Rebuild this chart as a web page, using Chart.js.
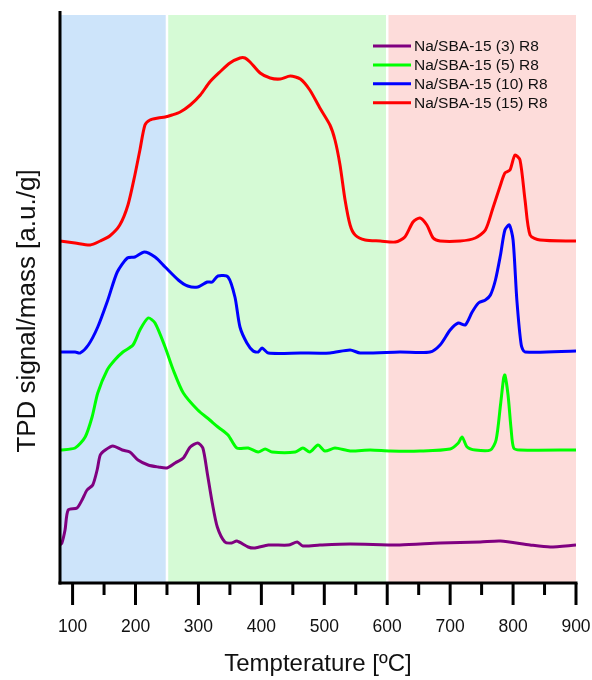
<!DOCTYPE html>
<html><head><meta charset="utf-8">
<script src="https://cdn.jsdelivr.net/npm/chart.js@4.4.1/dist/chart.umd.min.js"></script>
<style>html,body{margin:0;padding:0;background:#fff}#wrap{width:592px;height:680px}</style>
</head><body><div id="wrap"><canvas id="c" width="592" height="680"></canvas></div>
<script>
// ---- data (temperature in °C, signal in a.u./g, stacked offsets as drawn) ----
const seriesLabels = ['Na/SBA-15 (3) R8', 'Na/SBA-15 (5) R8', 'Na/SBA-15 (10) R8', 'Na/SBA-15 (15) R8'];
const seriesColors = ['#800080', '#00ff00', '#0000ff', '#ff0000'];

const temp3 = [80,83,88,93,107,115,123,132,139,144,152,164,179,191,204,220,236,250,263,276,287,299,307,314,322,330,342,353,361,379,390,411,443,457,466,493,541,620,684,748,780,827,859,900];
const sig3  = [38,40,53,73,75,83,93,98,113,128,133,137,133,131,123,118,116,115,120,125,136,140,135,110,80,56,41,40,42,36,35,38,38,41,37,38,39,38,40,41,42,38,36,38];

const temp5 = [80,104,120,131,140,155,167,180,196,207,220,231,247,260,276,299,318,331,347,361,379,395,406,417,454,466,477,490,501,517,541,573,605,652,700,713,719,727,740,764,773,780,785,787,792,797,801,811,900];
const sig5  = [133,135,146,166,190,213,223,231,238,253,265,260,236,213,190,173,163,156,148,135,135,131,134,131,131,135,131,138,132,135,132,133,132,132,134,140,146,136,133,133,143,178,205,208,188,153,135,133,133];

const temp10 = [80,104,112,125,140,156,171,187,199,214,231,247,268,283,299,314,322,331,347,358,366,377,387,395,401,411,462,509,541,557,620,668,684,700,713,724,735,745,756,764,772,780,787,794,800,806,813,819,900];
const sig10  = [231,231,230,238,256,283,311,325,326,331,326,316,303,297,296,301,301,307,306,286,256,240,232,231,235,230,230,230,233,230,231,231,238,253,260,258,271,280,283,288,303,328,353,358,343,283,238,231,232];

const temp15 = [80,104,128,144,159,175,188,199,207,215,223,236,247,258,271,287,303,318,334,350,366,374,382,398,414,430,446,462,477,493,509,517,525,533,541,549,565,589,613,628,641,652,663,673,684,716,740,756,768,780,787,795,803,811,819,827,843,900];
const sig15  = [342,340,338,342,347,358,378,408,433,458,463,465,466,468,471,478,488,501,511,520,525,525,521,510,505,504,507,504,493,475,458,443,418,383,358,348,343,342,341,346,361,365,358,345,342,342,345,353,375,398,410,413,428,423,383,348,343,342];

const regionEdges = [80, 250, 600, 900];
const regionColors = ['#cde4fa', '#d5fad5', '#fddcda'];
const xTickValues = [100,150,200,250,300,350,400,450,500,550,600,650,700,750,800,850,900];
const xTitle = 'Tempterature [ºC]';
const yTitle = 'TPD signal/mass [a.u./g]';

const allTemps = [temp3, temp5, temp10, temp15];
const allSigs = [sig3, sig5, sig10, sig15];

const FONT = "'Liberation Sans', Arial, Helvetica, sans-serif";

const datasets = seriesLabels.map((lab, i) => ({
  label: lab,
  data: allTemps[i].map((t, k) => ({x: t, y: allSigs[i][k]})),
  borderColor: seriesColors[i],
  backgroundColor: seriesColors[i],
  borderWidth: 3,
  pointRadius: 0,
  tension: 0.25,
  fill: false
}));

const decor = {
  id: 'decor',
  beforeDatasetsDraw(chart) {
    const {ctx, chartArea: a, scales: {x}} = chart;
    ctx.save();
    for (let i = 0; i < regionEdges.length - 1; i++) {
      const x0 = x.getPixelForValue(regionEdges[i]);
      const x1 = x.getPixelForValue(regionEdges[i + 1]);
      ctx.fillStyle = regionColors[i];
      ctx.fillRect(x0, a.top, x1 - x0, a.bottom - a.top);
    }
    ctx.strokeStyle = '#ffffff';
    ctx.lineWidth = 2.5;
    for (let i = 1; i < regionEdges.length - 1; i++) {
      const px = x.getPixelForValue(regionEdges[i]);
      ctx.beginPath(); ctx.moveTo(px, a.top); ctx.lineTo(px, a.bottom); ctx.stroke();
    }
    ctx.restore();
  },
  afterDatasetsDraw(chart) {
    const {ctx, chartArea: a, scales: {x}} = chart;
    ctx.save();
    ctx.strokeStyle = '#000';
    ctx.lineWidth = 3;
    ctx.lineCap = 'butt';
    ctx.beginPath(); ctx.moveTo(a.left, a.top - 4); ctx.lineTo(a.left, a.bottom + 1.5); ctx.stroke();
    ctx.beginPath(); ctx.moveTo(a.left - 1.5, a.bottom); ctx.lineTo(a.right + 1.5, a.bottom); ctx.stroke();
    x.ticks.forEach(t => {
      const px = x.getPixelForValue(t.value);
      const len = (t.value % 100 === 0) ? 22 : 12;
      ctx.beginPath(); ctx.moveTo(px, a.bottom); ctx.lineTo(px, a.bottom + len); ctx.stroke();
    });
    // legend
    ctx.font = '15.5px ' + FONT;
    ctx.textBaseline = 'middle';
    ctx.textAlign = 'left';
    chart.data.datasets.forEach((ds, i) => {
      const y = 46 + i * 18.9;
      ctx.strokeStyle = ds.borderColor;
      ctx.lineWidth = 3;
      ctx.beginPath(); ctx.moveTo(373, y); ctx.lineTo(411, y); ctx.stroke();
      ctx.fillStyle = '#111';
      ctx.fillText(ds.label, 414, y + 1);
    });
    // y-axis title
    ctx.save();
    ctx.translate(28, 311);
    ctx.rotate(-Math.PI / 2);
    ctx.font = '26px ' + FONT;
    ctx.textAlign = 'center';
    ctx.textBaseline = 'middle';
    ctx.fillStyle = '#111';
    ctx.fillText(yTitle, 0, 0);
    ctx.restore();
    ctx.restore();
  }
};

new Chart(document.getElementById('c'), {
  type: 'line',
  data: {datasets},
  options: {
    responsive: false,
    animation: false,
    devicePixelRatio: 1,
    layout: {padding: {top: 15, right: 16, left: 0, bottom: 0}},
    plugins: {legend: {display: false}, tooltip: {enabled: false}},
    scales: {
      x: {
        type: 'linear',
        min: 80, max: 900,
        afterBuildTicks: s => { s.ticks = xTickValues.map(v => ({value: v})); },
        afterFit: s => { s.height = 97; },
        grid: {display: true, drawOnChartArea: false, drawTicks: true, tickLength: 34, color: 'rgba(0,0,0,0)'},
        border: {display: false},
        ticks: {
          autoSkip: false, maxRotation: 0, padding: 0,
          color: '#111',
          font: {family: FONT, size: 17.5},
          callback: v => (v % 100 === 0 ? String(v) : '')
        },
        title: {
          display: true, text: xTitle, color: '#111',
          font: {family: FONT, size: 24}, padding: {top: 0, bottom: 1}
        }
      },
      y: {
        type: 'linear',
        min: 0, max: 568,
        afterFit: s => { s.width = 60; },
        grid: {display: false, drawTicks: false},
        border: {display: false},
        ticks: {display: false}
      }
    }
  },
  plugins: [decor]
});
</script></body></html>
